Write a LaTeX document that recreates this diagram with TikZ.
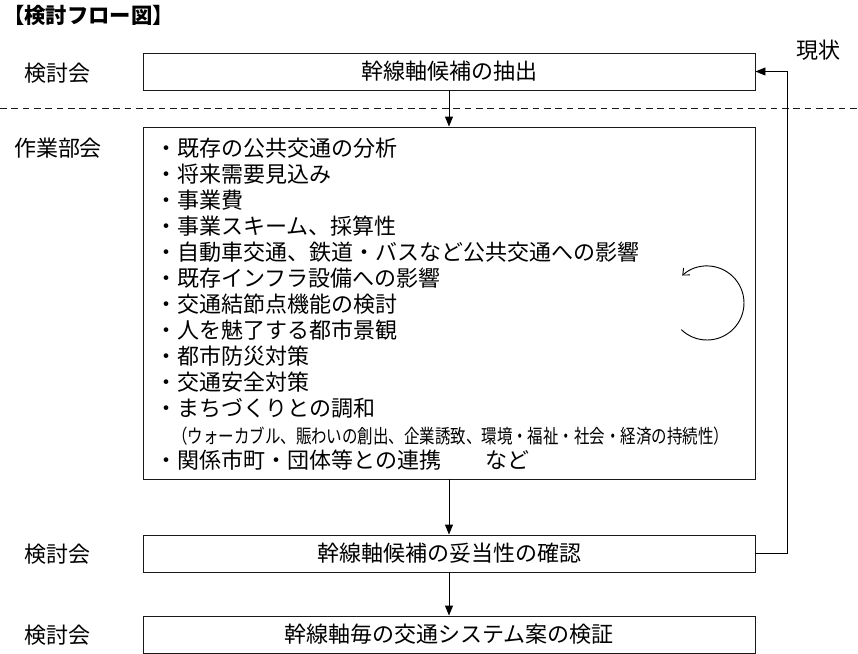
\documentclass[tikz,border=0pt]{standalone}
\usepackage{fontspec}
\setmainfont{Noto Sans CJK JP}
\usetikzlibrary{arrows.meta}
\definecolor{linegray}{rgb}{0.1,0.1,0.1}

\begin{document}
\begin{tikzpicture}[x=0.75pt,y=0.75pt,yscale=-1,xscale=1,
	stepbox/.style={draw=linegray,line width=0.7pt,minimum width=459pt,inner sep=0pt},
	txt/.style={font=\fontsize{16.5}{18}\selectfont,inner sep=0pt},
	item/.style={txt,anchor=west},
	flow/.style={line width=0.7pt,-{Triangle[length=7.5pt,width=6pt]}}]
	\useasboundingbox (0,0) rectangle (858,654);
	
	% title and side labels
	\node (title) [anchor=west,inner sep=0pt,font=\bfseries\fontsize{16}{17}\selectfont] at (3,15) {【検討フロー図】};
	\node (lab1) [txt] at (58,73) {検討会};
	\node (lab2) [txt] at (58,148) {作業部会};
	\node (lab3) [txt] at (58,554) {検討会};
	\node (lab4) [txt] at (58,635) {検討会};
	\node (now) [txt] at (818,50) {現状};
	
	% boxes
	\node (extract) [stepbox,minimum height=27.75pt] at (449,71.5) {};
	\node [txt] at (extract) {幹線軸候補の抽出};
	\node (work) [stepbox,minimum height=264pt] at (449,303) {};
	\node (check) [stepbox,minimum height=27.75pt] at (449,553.5) {};
	\node [txt] at (check) {幹線軸候補の妥当性の確認};
	\node (verify) [stepbox,minimum height=27.75pt] at (449,634.5) {};
	\node [txt] at (verify) {幹線軸毎の交通システム案の検証};
	
	% list
	\node (i1) [item] at (155,148) {・既存の公共交通の分析};
	\node (i2) [item] at (155,174) {・将来需要見込み};
	\node (i3) [item] at (155,200) {・事業費};
	\node (i4) [item] at (155,226) {・事業スキーム、採算性};
	\node (i5) [item] at (155,252) {・自動車交通、鉄道・バスなど公共交通への影響};
	\node (i6) [item] at (155,278) {・既存インフラ設備への影響};
	\node (i7) [item] at (155,304) {・交通結節点機能の検討};
	\node (i8) [item] at (155,330) {・人を魅了する都市景観};
	\node (i9) [item] at (155,356) {・都市防災対策};
	\node (i10) [item] at (155,382) {・交通安全対策};
	\node (i11) [item] at (155,408) {・まちづくりとの調和};
	\node (note) [anchor=west,inner sep=0pt] at (172,436) {\scalebox{0.8}[1]{\fontsize{14.5}{16}\selectfont （ウォーカブル、賑わいの創出、企業誘致、環境・福祉・社会・経済の持続性）}};
	\node (i12) [item] at (155,460) {・関係市町・団体等との連携　　など};
	
	% dashed separator
	\draw[linegray,line width=0.7pt,dash pattern=on 5pt off 3.5pt] (0,108) -- (858,108);
	
	% flow
	\draw[flow] (extract) -- (work);
	\draw[flow] (work) -- (check);
	\draw[flow] (check) -- (verify);
	\coordinate (fb) at (787,553.5);
	\draw[flow] (check.east) -- (fb) |- (extract.east);
	
	% loop
	\coordinate (loopc) at (707,303);
	\draw[line width=0.7pt,-{Straight Barb[length=4pt,width=7pt]}] (loopc) ++(134:37) arc[start angle=134,end angle=-132,radius=37];
\end{tikzpicture}
\end{document}
